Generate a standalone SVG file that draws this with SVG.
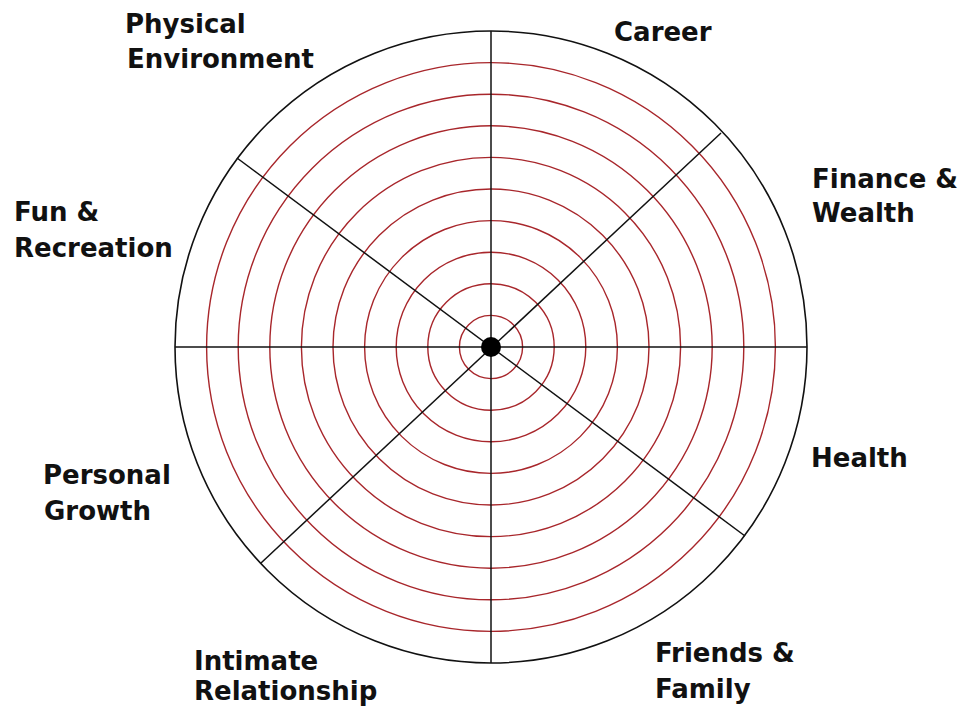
<svg xmlns="http://www.w3.org/2000/svg" width="967" height="714" viewBox="0 0 967 714">
<style>
.ring{fill:none;stroke:#a8262b;stroke-width:1.4}
.outer{fill:none;stroke:#111;stroke-width:1.6}
.spoke{stroke:#111;stroke-width:1.5}
.lbl{font-family:"DejaVu Sans","Liberation Sans",sans-serif;font-weight:bold;font-size:26px;fill:#111}
</style>
<rect width="967" height="714" fill="#fff"/>
<g id="wheel">
<circle class="ring" cx="491" cy="347" r="31.6"/>
<circle class="ring" cx="491" cy="347" r="63.2"/>
<circle class="ring" cx="491" cy="347" r="94.8"/>
<circle class="ring" cx="491" cy="347" r="126.4"/>
<circle class="ring" cx="491" cy="347" r="158"/>
<circle class="ring" cx="491" cy="347" r="189.6"/>
<circle class="ring" cx="491" cy="347" r="221.2"/>
<circle class="ring" cx="491" cy="347" r="252.8"/>
<circle class="ring" cx="491" cy="347" r="284.4"/>
<circle class="outer" cx="491" cy="347" r="316"/>
</g>
<g id="connectors">
<line class="spoke" x1="175" y1="347" x2="807" y2="347"/>
<line class="spoke" x1="491" y1="31" x2="491" y2="663"/>
<line class="spoke" x1="721" y1="133" x2="261" y2="563"/>
<line class="spoke" x1="237" y1="158" x2="745" y2="536"/>
</g>
<circle id="hub" cx="491" cy="347" r="10" fill="#000"/>
<g id="career"><text class="lbl" x="614" y="41">Career</text></g>
<g id="finance"><text class="lbl" x="812" y="188">Finance &amp;</text><text class="lbl" x="812" y="222">Wealth</text></g>
<g id="health"><text class="lbl" x="811" y="467">Health</text></g>
<g id="friends"><text class="lbl" x="655" y="662">Friends &amp;</text><text class="lbl" x="655" y="698">Family</text></g>
<g id="intimate"><text class="lbl" x="194" y="670">Intimate</text><text class="lbl" x="194" y="700">Relationship</text></g>
<g id="personal"><text class="lbl" x="43" y="484">Personal</text><text class="lbl" x="44" y="520">Growth</text></g>
<g id="fun"><text class="lbl" x="14" y="221">Fun &amp;</text><text class="lbl" x="14" y="257">Recreation</text></g>
<g id="physical"><text class="lbl" x="125" y="33">Physical</text><text class="lbl" x="127" y="68">Environment</text></g>
</svg>
